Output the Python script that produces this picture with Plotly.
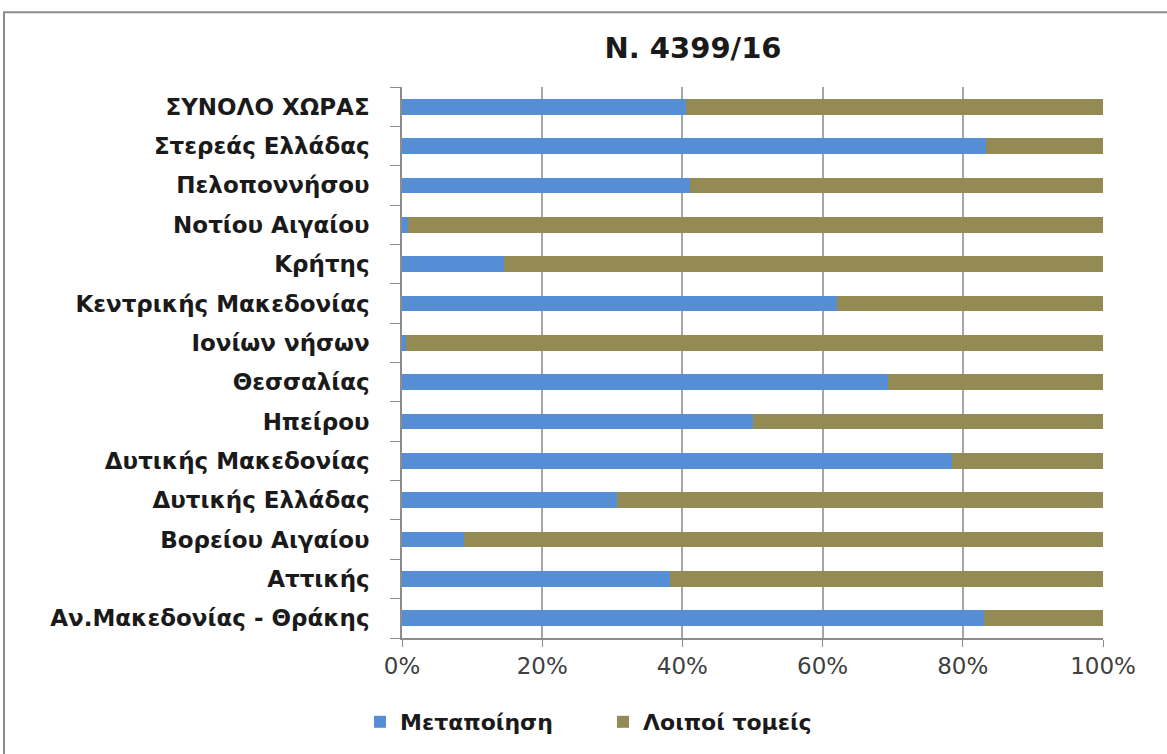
import plotly.graph_objects as go

regions = [
    "Αν.Μακεδονίας - Θράκης", "Αττικής", "Βορείου Αιγαίου", "Δυτικής Ελλάδας",
    "Δυτικής Μακεδονίας", "Ηπείρου", "Θεσσαλίας", "Ιονίων νήσων",
    "Κεντρικής Μακεδονίας", "Κρήτης", "Νοτίου Αιγαίου", "Πελοποννήσου",
    "Στερεάς Ελλάδας", "ΣΥΝΟΛΟ ΧΩΡΑΣ",
]
metapoiisi = [83.0, 38.3, 8.8, 30.7, 78.4, 50.0, 69.3, 0.5, 62.0, 14.5, 0.8, 41.1, 83.3, 40.5]
loipoi = [17.0, 61.7, 91.2, 69.3, 21.6, 50.0, 30.7, 99.5, 38.0, 85.5, 99.2, 58.9, 16.7, 59.5]
x_ticks = [0, 20, 40, 60, 80, 100]
x_ticklabels = ["0%", "20%", "40%", "60%", "80%", "100%"]

FONT = "DejaVu Sans"

fig = go.Figure()
fig.add_trace(go.Bar(y=regions, x=metapoiisi, orientation="h", name="Μεταποίηση",
                     marker=dict(color="#558ED5", line=dict(width=0))))
fig.add_trace(go.Bar(y=regions, x=loipoi, orientation="h", name="Λοιποί τομείς",
                     marker=dict(color="#948A54", line=dict(width=0))))

W, H = 1167, 754
L, R, T, B = 402, 64, 87, 115
pw = W - L - R
ph = H - T - B

def px_x(x):
    return (x - L) / pw

def px_y(y):
    return (H - B - y) / ph

fig.update_layout(
    width=W, height=H,
    barmode="stack", bargap=0.6,
    paper_bgcolor="white", plot_bgcolor="white",
    margin=dict(l=L, r=R, t=T, b=B, pad=0),
    font=dict(family=FONT, color="#262626"),
    title=dict(text="<b>N. 4399/16</b>", x=px_x(693), xref="paper", xanchor="center",
               y=1 - 48 / H, yanchor="middle", font=dict(size=29, color="#1a1a1a")),
    legend=dict(orientation="h", x=px_x(360), xanchor="left", y=px_y(722), yanchor="middle",
                font=dict(size=22, color="#1a1a1a", weight="bold"), traceorder="normal",
                entrywidth=198, entrywidthmode="pixels", tracegroupgap=0),
    xaxis=dict(range=[0, 100], tickvals=x_ticks, ticktext=x_ticklabels,
               showgrid=True, gridcolor="#A6A6A6", gridwidth=1.5,
               showline=True, linecolor="#8C8C8C", linewidth=1.5,
               ticks="outside", ticklen=7, tickcolor="#8C8C8C",
               tickfont=dict(size=23, color="#404040"), zeroline=False,
               fixedrange=True),
    yaxis=dict(categoryorder="array", categoryarray=regions,
               showline=True, linecolor="#8C8C8C", linewidth=1.5,
               ticks="outside", ticklen=10, tickcolor="#8C8C8C", tickson="boundaries",
               tickfont=dict(size=23, color="#1a1a1a", weight="bold"),
               ticklabelstandoff=26, showgrid=False),
    shapes=[dict(type="rect", xref="paper", yref="paper",
                 x0=px_x(4), x1=px_x(1200), y0=px_y(800), y1=px_y(12),
                 line=dict(color="#8C8C8C", width=2), layer="below")],
)

fig.write_html("out.html", config={"displayModeBar": False},
               post_script="document.body.style.margin='0px';")
